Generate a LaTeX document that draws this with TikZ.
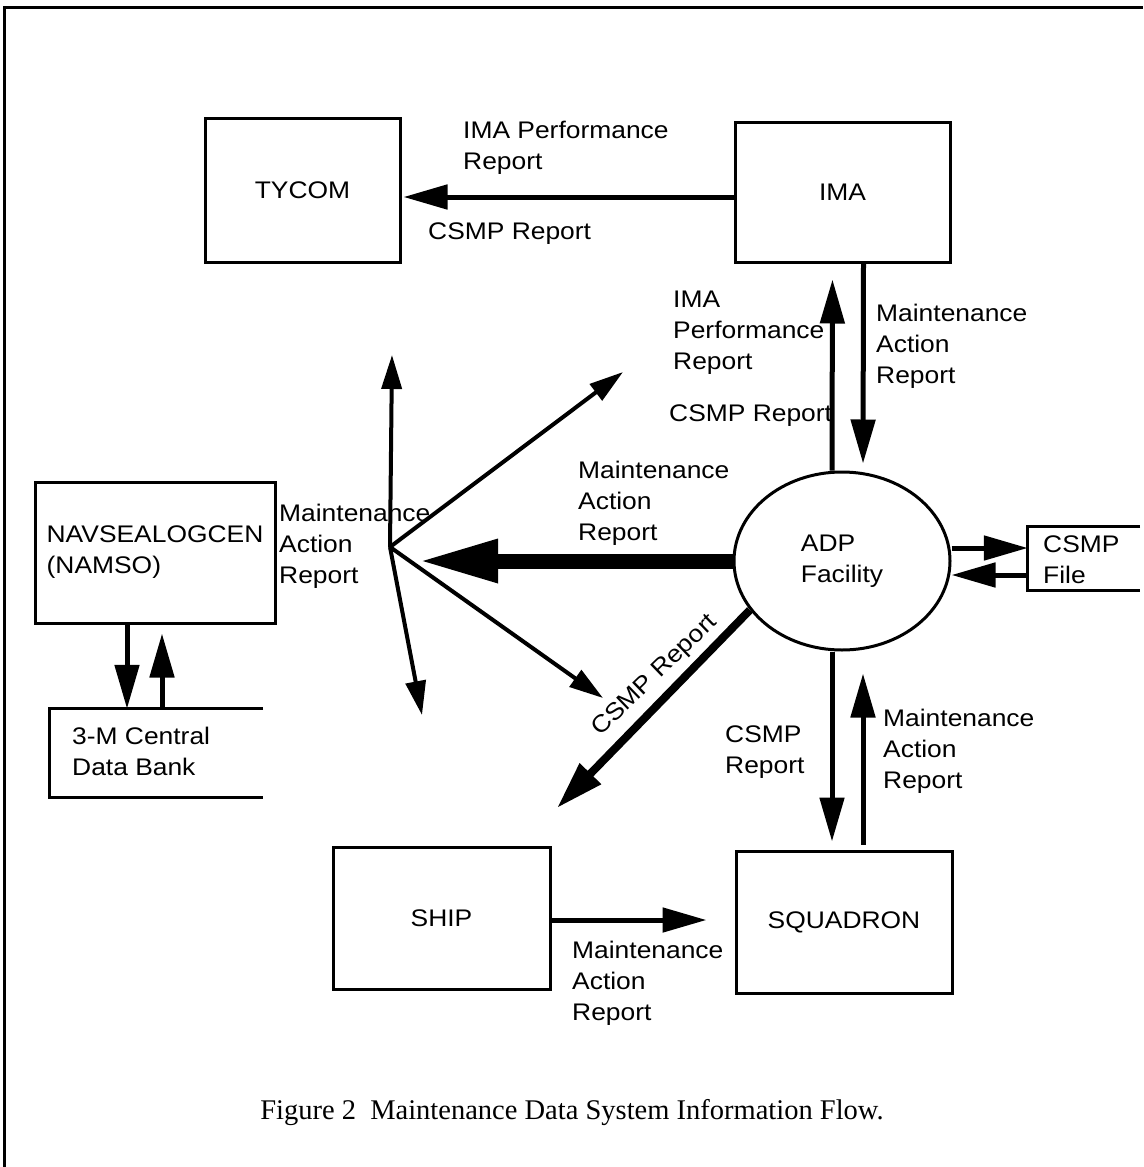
\documentclass[tikz,border=0pt]{standalone}
\usepackage{fontspec}
\newfontfamily\plotfont{Liberation Sans}[FakeStretch=1.1]
\newfontfamily\capfont{Liberation Serif}
\usetikzlibrary{arrows.meta,shapes.geometric}

\begin{document}
\begin{tikzpicture}[x=1pt,y=-1pt,
  every node/.style={font=\plotfont\fontsize{24}{31}\selectfont},
  box/.style={draw,line width=3pt,rectangle,inner sep=0pt},
  lbl/.style={anchor=north west,align=left,inner sep=0pt},
  flow/.style={line width=5pt,-{Triangle[length=44pt,width=24pt]}},
  fanline/.style={line width=4pt,-{Triangle[length=34pt,width=20pt]}},
  heavy/.style={line width=15pt,-{Triangle[length=80pt,width=40pt]}},
  diag/.style={line width=8pt,-{Triangle[length=48pt,width=28pt]}},
  rule/.style={line width=3pt}]

\useasboundingbox (0,0) rectangle (1143,1167);
% page frame (top and left edges)
\draw[rule] (4,1167) -- (4,7) -- (1143,7);

% units
\node[box,minimum width=195pt,minimum height=144pt] (tycom) at (302.5,190) {TYCOM};
\node[box,minimum width=215pt,minimum height=140pt] (ima) at (842.5,192) {IMA};
\node[box,align=left,minimum width=240pt,minimum height=141pt] (navsea) at (155,552.5) {NAVSEALOGCEN\\(NAMSO)};
\node[box,minimum width=217pt,minimum height=142pt] (ship) at (441.5,918) {SHIP};
\node[box,minimum width=216pt,minimum height=142pt] (squad) at (844,922) {SQUADRON};
\node[draw,ellipse,line width=3pt,inner sep=0pt,align=left,minimum width=216pt,minimum height=178pt] (adp) at (842,561) {ADP\\Facility};

% data stores (open-ended boxes)
\node[inner sep=0pt,minimum width=213pt,minimum height=88pt] (bank) at (156.5,753) {};
\draw[rule] (bank.north east) -- (bank.north west) -- (bank.south west) -- (bank.south east);
\node[lbl] (banktext) at (72,727) {3-M Central\\Data Bank};
\node[inner sep=0pt,minimum width=112pt,minimum height=63pt] (file) at (1084,558.5) {};
\draw[rule] (file.north east) -- (file.north west) -- (file.south west) -- (file.south east);
\node[lbl] (filetext) at (1043,536) {CSMP\\File};

% distribution fan
\coordinate (fan) at (390,547);
\coordinate (fanN) at (392,355);
\coordinate (fanNE) at (623,372);
\coordinate (fanSE) at (603,698);
\coordinate (fanS) at (422,715);
\coordinate (shipin) at (557,808);

% connectors
\draw[flow,shorten >=2pt] ([yshift=-5pt]ima.west) -- ([yshift=-7pt]tycom.east);
\draw[flow,shorten >=16pt] ([xshift=-10pt]adp.north) -- ([xshift=-10pt]ima.south);
\draw[flow,shorten >=7pt] ([xshift=21pt]ima.south) -- ([xshift=21pt]adp.north);
\draw[flow,shorten >=8pt] ([xshift=-10pt]adp.south) -- ([xshift=-12pt]squad.north);
\draw[flow,shorten <=5pt,shorten >=22pt] ([xshift=19pt]squad.north) -- ([xshift=21pt]adp.south);
\draw[flow] ([yshift=13pt]adp.east) -- ([yshift=10.5pt]file.west);
\draw[flow] ([yshift=-16.5pt]file.west) -- ([yshift=-14pt]adp.east);
\draw[heavy,shorten >=28pt] (adp.west) -- (adp.west -| fan);
\draw[fanline] (fan) -- (fanN);
\draw[fanline] (fan) -- (fanNE);
\draw[fanline] (fan) -- (fanSE);
\draw[fanline] (fan) -- (fanS);
\draw[diag] (adp.208) -- (shipin);
\draw[flow] ([xshift=-28pt]navsea.south) -- ([xshift=-29.5pt]bank.north);
\draw[flow,shorten >=9pt] ([xshift=5.5pt]bank.north) -- ([xshift=7pt]navsea.south);
\draw[flow,shorten >=28pt] ([yshift=-2pt]ship.east) -- ([yshift=2pt]squad.west);

% connector labels
\node[lbl] (toplbl) at (463,121) {IMA Performance\\Report};
\node[lbl] (topcsmp) at (428,223) {CSMP Report};
\node[lbl] (imaup) at (673,291) {IMA\\Performance\\Report};
\node[lbl] (imaupcsmp) at (669,405) {CSMP Report};
\node[lbl] (imadown) at (876,304) {Maintenance\\Action\\Report};
\node[lbl] (fanlbl) at (279,504) {Maintenance\\Action\\Report};
\node[lbl] (heavylbl) at (578,461) {Maintenance\\Action\\Report};
\node[rotate=44] (diaglbl) at (655,676) {CSMP Report};
\node[lbl] (sqcsmp) at (725,726) {CSMP\\Report};
\node[lbl] (sqmar) at (883,709) {Maintenance\\Action\\Report};
\node[lbl] (shiplbl) at (572,941) {Maintenance\\Action\\Report};

% caption
\node[font=\capfont\fontsize{28.5}{34}\selectfont] (caption) at (572,1113) {Figure 2~~Maintenance Data System Information Flow.};
\end{tikzpicture}
\end{document}
